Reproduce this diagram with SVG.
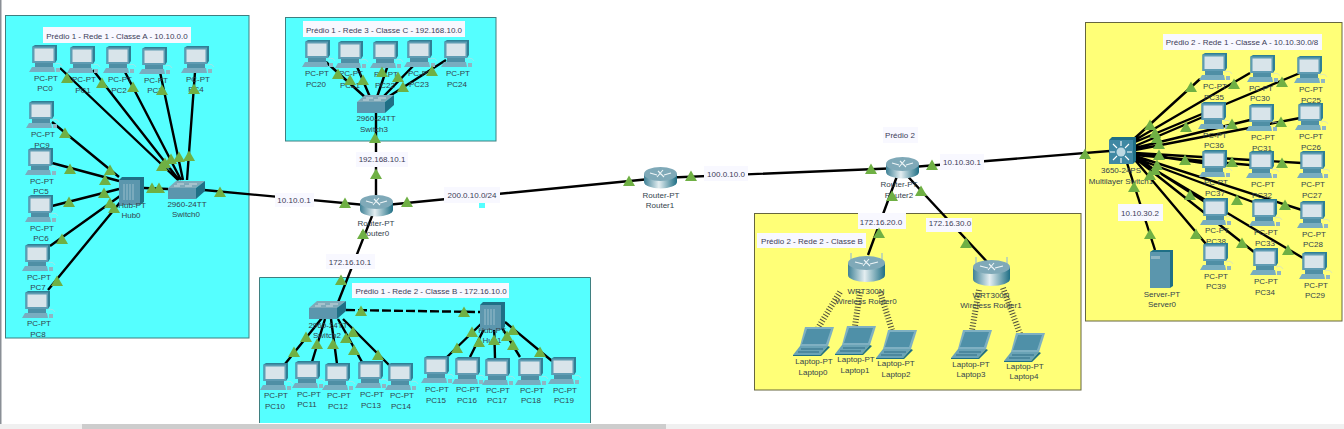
<svg xmlns="http://www.w3.org/2000/svg" width="1344" height="429" viewBox="0 0 1344 429">
<style>
text{font-family:"Liberation Sans",Arial,sans-serif;font-size:8px;fill:#33434c;text-anchor:middle}
.tl{fill:#3c3c58}
.c{fill:#55ffff;stroke:#3f7f80;stroke-width:1}
.y{fill:#ffff77;stroke:#66663f;stroke-width:1}
.b{fill:#f8f8ff}
#links path{fill:none;stroke:#000;stroke-width:2.4}
#links path.d{stroke-dasharray:9 3}
#links path.w{stroke-width:6;stroke-dasharray:1 2;stroke:#333;stroke-opacity:.85}
</style>
<defs>
<linearGradient id="rg" x1="0" x2="1" y1="0" y2="0"><stop offset="0" stop-color="#3f8196"/><stop offset=".45" stop-color="#e4eef1"/><stop offset="1" stop-color="#1f6f85"/></linearGradient>
<polygon id="t" points="0,-5.500 6,5 -6,5" fill="#6fb044"/>
<g id="pc">
<path d="M3.500 1.500 L6 0 H28 V15 L26 18 H3.500Z" fill="#2f7f95"/>
<rect x="3.500" y="1.500" width="22.500" height="16.500" fill="#5f9cb3"/>
<rect x="5.500" y="3.500" width="19" height="12.500" fill="#d8e4ea"/>
<rect x="6" y="18" width="18" height="4" fill="#4f8fa5"/>
<path d="M3 22 H25 L26 27 H0Z" fill="#78adc0"/>
<rect x="27" y="23" width="4" height="4" fill="#8fb6c4"/>
<path d="M26 19 Q31 17 33 21" fill="none" stroke="#c8d8dc" stroke-width=".6"/>
</g>
<g id="sw">
<path d="M0 7 L8 0 H37 L28 7Z" fill="#7fa9b8"/>
<path d="M9 3 H16 M21 3 H29 M6 5 H12 M17 5 H24" stroke="#dfe9ec" stroke-width=".8"/>
<rect x="0" y="7" width="28" height="11" fill="#5b96ad"/>
<path d="M28 7 L37 0 V10 L28 18Z" fill="#1f6f85"/>
</g>
<g id="hub">
<path d="M0 3 L3 0 H25 V25 L21 28 H0Z" fill="#1f6f85"/>
<rect x="0" y="3" width="21" height="25" fill="#5b96ad"/>
<path d="M5 7V23M8 7V23M11 7V23M14 7V23" stroke="#a9c9d4" stroke-width=".8"/>
</g>
<g id="rt">
<path d="M0 7 V15 A16.500 6.500 0 0 0 33 15 V7Z" fill="url(#rg)"/>
<ellipse cx="16.500" cy="7" rx="16.500" ry="7" fill="#7fa9b8"/>
<path d="M6 6 L13 8 M14 4 L20 10 M27 6 L20 8 M19 3 L13 10" stroke="#eef5f7" stroke-width="1.1"/>
</g>
<g id="wr">
<path d="M3 0V12M34 0V12" stroke="#9cc0cd" stroke-width="1.2"/>
<path d="M0 10 V22 A18.500 7 0 0 0 37 22 V10Z" fill="url(#rg)"/>
<ellipse cx="18.500" cy="10" rx="18.500" ry="7" fill="#7fa9b8"/>
<path d="M7 9 L15 11 M16 7 L22 13 M30 9 L22 11 M21 6 L15 13" stroke="#eef5f7" stroke-width="1.1"/>
</g>
<g id="lt">
<path d="M12 0 H41 L35 19 H7Z" fill="#7fb0c2"/>
<path d="M14 2 H38 L33 17 H9Z" fill="#4f90a8"/>
<path d="M7 19 H35 L27 28 H0Z" fill="#6aa3b6"/>
<path d="M35 19 L37 20 L28 29 H0 V28 H27Z" fill="#1f6f85"/>
<path d="M8 22 H30 M5 25 H26" stroke="#2f6f85" stroke-width="1.2"/>
</g>
<g id="mls">
<path d="M0 3 L3 0 H27 V24 L24 27 H0Z" fill="#1f6f85"/>
<rect x="0" y="3" width="24" height="24" fill="#3f88a3"/>
<circle cx="12" cy="15" r="4.500" fill="#bcd8e2"/>
<path d="M12 4V9M12 21V26M1 15H6M18 15H23M4 7L8 11M20 7L16 11M4 23L8 19M20 23L16 19" stroke="#fff" stroke-width="1.1"/>
</g>
<g id="srv">
<path d="M0 2 L3 0 H23 V36 L20 38 H0Z" fill="#1f6f85"/>
<rect x="0" y="2" width="20" height="36" fill="#5b96ad"/>
<rect x="1" y="6" width="9" height="3" fill="#8fb6c4"/>
</g>
</defs>

<rect width="1344" height="429" fill="#fff"/>
<rect x="0" y="0" width="1.500" height="424" fill="#8a8f96"/>
<rect x="0" y="424" width="1344" height="5" fill="#f0f0f0"/>
<rect x="82" y="424" width="584" height="5" fill="#cdcdcd"/>

<g id="areas">
<rect class="c" x="5.500" y="15.500" width="243.500" height="322.500"/>
<rect class="c" x="285.500" y="17.500" width="210.500" height="123.500"/>
<path class="c" d="M259.500 423 V277.500 H590.500 V423"/>
<rect x="479" y="203" width="6" height="5" fill="#55ffff"/>
<rect class="y" x="754.500" y="213.500" width="326.500" height="176.500"/>
<rect class="y" x="1085.500" y="22.500" width="256.500" height="298.500"/>
</g>

<g id="links">
<path d="M60 68L178 180M93 70L179 180M125 72L181 180M160 72L183 180M195 72L187 180"/>
<path d="M52 122L119 177M52 163L119 181M52 206L119 189M50 246L120 196M48 290L122 200"/>
<path d="M144 188L168 189M204 190L376 206"/>
<path d="M376 206L660 178M660 178L900 168"/>
<path d="M900 168L1122 150"/>
<path d="M376 113V195M376 206L335 310"/>
<path d="M326 62L366 98M355 62L370 97M389 62L377 97M417 62L383 97M446 60L388 97"/>
<path d="M900 168L868 255M900 168L990 265"/>
<path d="M285 364L322 318M312 362L325 319M337 364L331 319M362 362L338 319M389 365L343 319"/>
<path class="d" d="M346 310L480 312"/>
<path d="M447 357L482 323M470 357L487 323M495 358L494 323M520 357L499 323M552 361L505 322"/>
<path d="M1135 138L1200 79M1135 140L1250 73M1135 142L1300 73M1135 146L1203 117M1135 148L1250 120M1135 150L1300 118"/>
<path d="M1135 153L1203 163M1135 155L1250 165M1135 153L1302 163"/>
<path d="M1135 157L1205 202M1135 158L1253 202M1135 156L1302 210M1135 160L1206 244M1135 158L1254 252M1135 158L1303 258"/>
<path d="M1127 163L1155 250"/>
<path class="w" d="M840 292L818 328M860 292L855 326M880 292L892 330M979 290L972 330M1003 288L1020 334"/>
</g>

<g id="label-boxes">
<rect class="b" x="43" y="27" width="148" height="16"/>
<rect class="b" x="303" y="21" width="162" height="16"/>
<rect class="b" x="352" y="283" width="157" height="15"/>
<rect class="b" x="757" y="233" width="109" height="15"/>
<rect class="b" x="1163" y="34" width="159" height="16"/>
<rect class="b" x="275" y="193" width="39" height="14"/>
<rect class="b" x="356" y="152" width="52" height="15"/>
<rect class="b" x="444" y="187" width="56" height="16"/>
<rect class="b" x="326" y="254" width="49" height="15"/>
<rect class="b" x="704" y="166" width="44" height="15"/>
<rect class="b" x="883" y="127" width="35" height="16"/>
<rect class="b" x="940" y="154" width="44" height="16"/>
<rect class="b" x="858" y="213" width="48" height="16"/>
<rect class="b" x="926" y="218" width="46" height="14"/>
<rect class="b" x="1118" y="204" width="45" height="17"/>
</g>

<g id="PC0"><use href="#pc" x="29" y="45"/><text x="46" y="81">PC-PT</text><text x="45" y="91">PC0</text></g>
<g id="PC1"><use href="#pc" x="67" y="46"/><text x="84" y="82">PC-PT</text><text x="83" y="93">PC1</text></g>
<g id="PC2"><use href="#pc" x="103" y="46"/><text x="120" y="82">PC-PT</text><text x="119" y="93">PC2</text></g>
<g id="PC3"><use href="#pc" x="139" y="47"/><text x="156" y="83">PC-PT</text><text x="155" y="93">PC3</text></g>
<g id="PC4"><use href="#pc" x="181" y="46"/><text x="198" y="82">PC-PT</text><text x="196" y="92">PC4</text></g>
<g id="PC9"><use href="#pc" x="26" y="101"/><text x="43" y="137">PC-PT</text><text x="42" y="148">PC9</text></g>
<g id="PC5"><use href="#pc" x="25" y="148"/><text x="42" y="184">PC-PT</text><text x="41" y="194">PC5</text></g>
<g id="PC6"><use href="#pc" x="25" y="195"/><text x="42" y="231">PC-PT</text><text x="41" y="241">PC6</text></g>
<g id="PC7"><use href="#pc" x="22" y="244"/><text x="39" y="280">PC-PT</text><text x="38" y="290">PC7</text></g>
<g id="PC8"><use href="#pc" x="22" y="291"/><text x="39" y="326">PC-PT</text><text x="38" y="337">PC8</text></g>
<g id="Hub0"><use href="#hub" x="119" y="177"/><text x="132" y="208">Hub-PT</text><text x="131" y="218">Hub0</text></g>
<g id="Switch0"><use href="#sw" x="168" y="181"/><text x="187" y="207">2960-24TT</text><text x="186" y="217">Switch0</text></g>

<g id="PC20"><use href="#pc" x="302" y="40"/><text x="317" y="76">PC-PT</text><text x="316" y="87">PC20</text></g>
<g id="PC21"><use href="#pc" x="335" y="41"/><text x="351" y="76">PC-PT</text><text x="350" y="88">PC21</text></g>
<g id="PC22"><use href="#pc" x="370" y="41"/><text x="386" y="77">PC-PT</text><text x="385" y="88">PC22</text></g>
<g id="PC23"><use href="#pc" x="404" y="40"/><text x="420" y="76">PC-PT</text><text x="419" y="87">PC23</text></g>
<g id="PC24"><use href="#pc" x="441" y="40"/><text x="458" y="76">PC-PT</text><text x="457" y="87">PC24</text></g>
<g id="Switch3"><use href="#sw" x="357" y="95"/><text x="376" y="121">2960-24TT</text><text x="374" y="132">Switch3</text></g>
<g id="Router0"><use href="#rt" x="360" y="195"/><text x="376" y="226">Router-PT</text><text x="375" y="236">Router0</text></g>
<g id="Router1"><use href="#rt" x="644" y="167"/><text x="661" y="198">Router-PT</text><text x="660" y="208">Router1</text></g>
<g id="Router2"><use href="#rt" x="886" y="157"/><text x="899" y="187">Router-PT</text><text x="899" y="198">Router2</text></g>

<g id="Switch2"><use href="#sw" x="309" y="301"/><text x="328" y="328">2960-24TT</text><text x="327" y="338">Switch2</text></g>
<g id="Hub1"><use href="#hub" x="480" y="302"/><text x="492" y="333">Hub-PT</text><text x="492" y="343">Hub1</text></g>
<g id="PC10"><use href="#pc" x="260" y="363"/><text x="276" y="398">PC-PT</text><text x="275" y="409">PC10</text></g>
<g id="PC11"><use href="#pc" x="292" y="361"/><text x="309" y="397">PC-PT</text><text x="307" y="407">PC11</text></g>
<g id="PC12"><use href="#pc" x="322" y="363"/><text x="339" y="398">PC-PT</text><text x="338" y="409">PC12</text></g>
<g id="PC13"><use href="#pc" x="355" y="361"/><text x="372" y="397">PC-PT</text><text x="371" y="408">PC13</text></g>
<g id="PC14"><use href="#pc" x="385" y="363"/><text x="402" y="398">PC-PT</text><text x="401" y="409">PC14</text></g>
<g id="PC15"><use href="#pc" x="421" y="356"/><text x="437" y="392">PC-PT</text><text x="436" y="403">PC15</text></g>
<g id="PC16"><use href="#pc" x="452" y="357"/><text x="468" y="392">PC-PT</text><text x="467" y="403">PC16</text></g>
<g id="PC17"><use href="#pc" x="482" y="358"/><text x="498" y="393">PC-PT</text><text x="497" y="403">PC17</text></g>
<g id="PC18"><use href="#pc" x="515" y="358"/><text x="532" y="393">PC-PT</text><text x="531" y="403">PC18</text></g>
<g id="PC19"><use href="#pc" x="548" y="357"/><text x="565" y="393">PC-PT</text><text x="564" y="403">PC19</text></g>

<g id="WirelessRouter0"><use href="#wr" x="848" y="253"/><text x="866" y="294">WRT300N</text><text x="866" y="304">Wireless Router0</text></g>
<g id="WirelessRouter1"><use href="#wr" x="973" y="257"/><text x="991" y="298">WRT300N</text><text x="991" y="308">Wireless Router1</text></g>
<g id="Laptop0"><use href="#lt" x="793" y="327"/><text x="814" y="364">Laptop-PT</text><text x="813" y="375">Laptop0</text></g>
<g id="Laptop1"><use href="#lt" x="835" y="326"/><text x="856" y="362">Laptop-PT</text><text x="855" y="373">Laptop1</text></g>
<g id="Laptop2"><use href="#lt" x="876" y="330"/><text x="896" y="366">Laptop-PT</text><text x="896" y="377">Laptop2</text></g>
<g id="Laptop3"><use href="#lt" x="951" y="330"/><text x="971" y="367">Laptop-PT</text><text x="971" y="377">Laptop3</text></g>
<g id="Laptop4"><use href="#lt" x="1004" y="333"/><text x="1025" y="369">Laptop-PT</text><text x="1024" y="379">Laptop4</text></g>

<g id="MultilayerSwitch1"><use href="#mls" x="1109" y="137"/><text x="1121" y="173">3650-24PS</text><text x="1121" y="184">Multilayer Switch1</text></g>
<g id="Server0"><use href="#srv" x="1150" y="250"/><text x="1162" y="297">Server-PT</text><text x="1162" y="307">Server0</text></g>
<g id="PC35"><use href="#pc" x="1199" y="53"/><text x="1215" y="89">PC-PT</text><text x="1214" y="100">PC35</text></g>
<g id="PC30"><use href="#pc" x="1247" y="55"/><text x="1261" y="91">PC-PT</text><text x="1260" y="101">PC30</text></g>
<g id="PC25"><use href="#pc" x="1294" y="56"/><text x="1311" y="92">PC-PT</text><text x="1311" y="103">PC25</text></g>
<g id="PC36"><use href="#pc" x="1198" y="102"/><text x="1215" y="138">PC-PT</text><text x="1214" y="148">PC36</text></g>
<g id="PC31"><use href="#pc" x="1246" y="104"/><text x="1263" y="140">PC-PT</text><text x="1262" y="151">PC31</text></g>
<g id="PC26"><use href="#pc" x="1295" y="103"/><text x="1311" y="139">PC-PT</text><text x="1311" y="150">PC26</text></g>
<g id="PC37"><use href="#pc" x="1199" y="150"/><text x="1216" y="185">PC-PT</text><text x="1215" y="196">PC37</text></g>
<g id="PC32"><use href="#pc" x="1246" y="151"/><text x="1263" y="187">PC-PT</text><text x="1262" y="198">PC32</text></g>
<g id="PC27"><use href="#pc" x="1297" y="151"/><text x="1313" y="187">PC-PT</text><text x="1312" y="198">PC27</text></g>
<g id="PC38"><use href="#pc" x="1200" y="198"/><text x="1217" y="233">PC-PT</text><text x="1216" y="244">PC38</text></g>
<g id="PC33"><use href="#pc" x="1249" y="199"/><text x="1266" y="235">PC-PT</text><text x="1265" y="246">PC33</text></g>
<g id="PC28"><use href="#pc" x="1297" y="201"/><text x="1314" y="237">PC-PT</text><text x="1313" y="247">PC28</text></g>
<g id="PC39"><use href="#pc" x="1200" y="243"/><text x="1216" y="279">PC-PT</text><text x="1216" y="289">PC39</text></g>
<g id="PC34"><use href="#pc" x="1250" y="248"/><text x="1266" y="284">PC-PT</text><text x="1265" y="295">PC34</text></g>
<g id="PC29"><use href="#pc" x="1299" y="252"/><text x="1316" y="288">PC-PT</text><text x="1315" y="298">PC29</text></g>

<g id="link-lights">
<use href="#t" x="67" y="78"/><use href="#t" x="102" y="83"/><use href="#t" x="133" y="87"/><use href="#t" x="162" y="90"/><use href="#t" x="194" y="89"/>
<use href="#t" x="162" y="166"/><use href="#t" x="165" y="163"/><use href="#t" x="171" y="159"/><use href="#t" x="179" y="157"/><use href="#t" x="189" y="156"/>
<use href="#t" x="65" y="133"/><use href="#t" x="110" y="170"/><use href="#t" x="70" y="169"/><use href="#t" x="105" y="180"/><use href="#t" x="69" y="202"/><use href="#t" x="104" y="193"/><use href="#t" x="110" y="203"/><use href="#t" x="114" y="208"/><use href="#t" x="62" y="239"/><use href="#t" x="57" y="281"/>
<use href="#t" x="152" y="188"/><use href="#t" x="159" y="188"/><use href="#t" x="220" y="192"/><use href="#t" x="345" y="203"/>
<use href="#t" x="338" y="74"/><use href="#t" x="350" y="80"/><use href="#t" x="363" y="80"/><use href="#t" x="382" y="72"/><use href="#t" x="398" y="77"/><use href="#t" x="403" y="87"/><use href="#t" x="432" y="71"/><use href="#t" x="375" y="138"/><use href="#t" x="376" y="174"/><use href="#t" x="407" y="202"/><use href="#t" x="363" y="234"/>
<use href="#t" x="629" y="181"/><use href="#t" x="691" y="176"/><use href="#t" x="871" y="169"/><use href="#t" x="932" y="165"/><use href="#t" x="892" y="196"/><use href="#t" x="921" y="191"/><use href="#t" x="879" y="233"/><use href="#t" x="966" y="243"/><use href="#t" x="1085" y="154"/>
<use href="#t" x="341" y="280"/><use href="#t" x="306" y="337"/><use href="#t" x="294" y="352"/><use href="#t" x="317" y="344"/><use href="#t" x="333" y="344"/><use href="#t" x="346" y="338"/><use href="#t" x="353" y="332"/><use href="#t" x="354" y="350"/><use href="#t" x="378" y="355"/><use href="#t" x="361" y="311"/><use href="#t" x="464" y="312"/>
<use href="#t" x="472" y="332"/><use href="#t" x="457" y="348"/><use href="#t" x="479" y="342"/><use href="#t" x="494" y="340"/><use href="#t" x="507" y="336"/><use href="#t" x="513" y="330"/><use href="#t" x="513" y="345"/><use href="#t" x="540" y="352"/>
<use href="#t" x="1191" y="87"/><use href="#t" x="1234" y="84"/><use href="#t" x="1282" y="82"/><use href="#t" x="1150" y="125"/><use href="#t" x="1155" y="133"/><use href="#t" x="1157" y="138"/><use href="#t" x="1159" y="144"/><use href="#t" x="1186" y="127"/><use href="#t" x="1232" y="124"/><use href="#t" x="1281" y="122"/><use href="#t" x="1159" y="155"/><use href="#t" x="1185" y="160"/><use href="#t" x="1232" y="162"/><use href="#t" x="1282" y="163"/><use href="#t" x="1157" y="165"/><use href="#t" x="1155" y="170"/><use href="#t" x="1150" y="175"/>
<use href="#t" x="1134" y="187"/><use href="#t" x="1190" y="195"/><use href="#t" x="1237" y="200"/><use href="#t" x="1285" y="205"/><use href="#t" x="1196" y="234"/><use href="#t" x="1242" y="243"/><use href="#t" x="1288" y="250"/><use href="#t" x="1150" y="234"/>
</g>

<g id="labels">
<text class="tl" x="117" y="39">Prédio 1 - Rede 1 - Classe A - 10.10.0.0</text>
<text class="tl" x="384" y="33">Prédio 1 - Rede 3 - Classe C - 192.168.10.0</text>
<text class="tl" x="431" y="294">Prédio 1 - Rede 2 - Classe B - 172.16.10.0</text>
<text class="tl" x="812" y="244">Prédio 2 - Rede 2 - Classe B</text>
<text class="tl" x="1242" y="45">Prédio 2 - Rede 1 - Classe A - 10.10.30.0/8</text>
<text class="tl" x="294" y="203">10.10.0.1</text>
<text class="tl" x="382" y="162">192.168.10.1</text>
<text class="tl" x="472" y="198">200.0.10.0/24</text>
<text class="tl" x="350" y="265">172.16.10.1</text>
<text class="tl" x="726" y="177">100.0.10.0</text>
<text class="tl" x="900" y="138">Prédio 2</text>
<text class="tl" x="962" y="165">10.10.30.1</text>
<text class="tl" x="881" y="225">172.16.20.0</text>
<text class="tl" x="950" y="226">172.16.30.0</text>
<text class="tl" x="1140" y="216">10.10.30.2</text>
</g>
</svg>
